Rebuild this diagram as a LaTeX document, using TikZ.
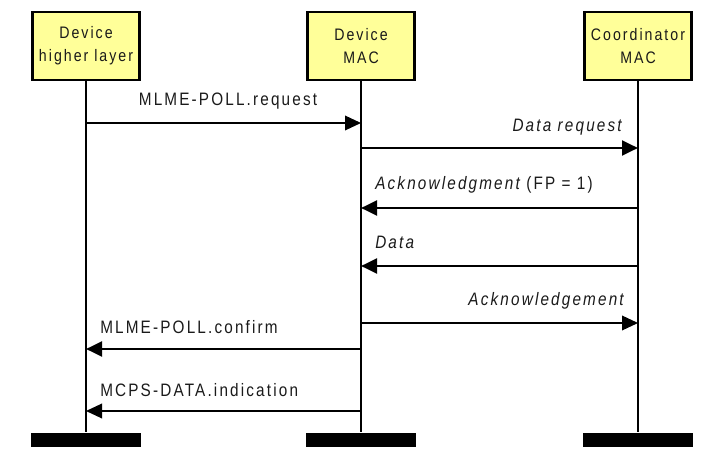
\documentclass[tikz,border=0pt]{standalone}
\usepackage{fontspec}
\setmainfont{Liberation Sans}[FakeStretch=0.85, LetterSpace=12]
\usetikzlibrary{arrows.meta,positioning}
\definecolor{layeryellow}{HTML}{FFFF99}
\definecolor{ink}{HTML}{1A1A1A}
\tikzset{
  every node/.style={text=ink, font=\fontsize{13.5}{16}\selectfont},
  % one box per entity, with a black bar at the end of its lifeline
  layer/.style={draw=black, fill=layeryellow, line width=2.2pt, align=center,
                minimum width=80pt, minimum height=51pt, inner sep=0pt,
                font=\fontsize{12.5}{17}\selectfont},
  endbar/.style={fill=black, minimum width=82pt, minimum height=11pt, inner sep=0pt},
  life/.style={line width=0.9pt},
  msg/.style={-{Triangle[length=12pt,width=11pt]}, line width=1pt},
  msgthick/.style={msg, line width=2.2pt},
  lbl/.style={inner sep=0pt},
}

\begin{document}
\begin{tikzpicture}[x=0.75pt,y=-0.75pt]
  \useasboundingbox (0,0) rectangle (720,459);
  \node[layer] (hl)   at (86,46)  {Device\\higher layer};
  \node[layer] (mac)  at (361,46) {Device\\MAC};
  \node[layer] (coord) at (638,46) {Coordinator\\MAC};
  \node[endbar] (hlend)    at (86,440)  {};
  \node[endbar] (macend)   at (361,440) {};
  \node[endbar] (coordend) at (638,440) {};
  \draw[life] (hl) -- (hlend);
  \draw[life] (mac) -- (macend);
  \draw[life] (coord) -- (coordend);

  % messages
  \draw[msg] (hl |- 0,123) -- (mac |- 0,123);
  \node[lbl] (req) at (228,101) {MLME-POLL.request};
  \draw[msgthick] (mac |- 0,148) -- (coord |- 0,148);
  \node[lbl, anchor=east] (dreq) at (622,127) {\itshape Data request};
  \draw[msgthick] (coord |- 0,208) -- (mac |- 0,208);
  \node[lbl, anchor=west] (ack) at (375,185) {\itshape Acknowledgment\upshape\ (FP = 1)};
  \draw[msgthick] (coord |- 0,266) -- (mac |- 0,266);
  \node[lbl, anchor=west] (data) at (375,242) {\itshape Data};
  \draw[msg] (mac |- 0,323) -- (coord |- 0,323);
  \node[lbl, anchor=east] (ack2) at (624,301) {\itshape Acknowledgement};
  \draw[msgthick] (mac |- 0,349) -- (hl |- 0,349);
  \node[lbl, anchor=west] (conf) at (100,327) {MLME-POLL.confirm};
  \draw[msg] (mac |- 0,411) -- (hl |- 0,411);
  \node[lbl, anchor=west] (ind) at (100,390) {MCPS-DATA.indication};
\end{tikzpicture}
\end{document}
